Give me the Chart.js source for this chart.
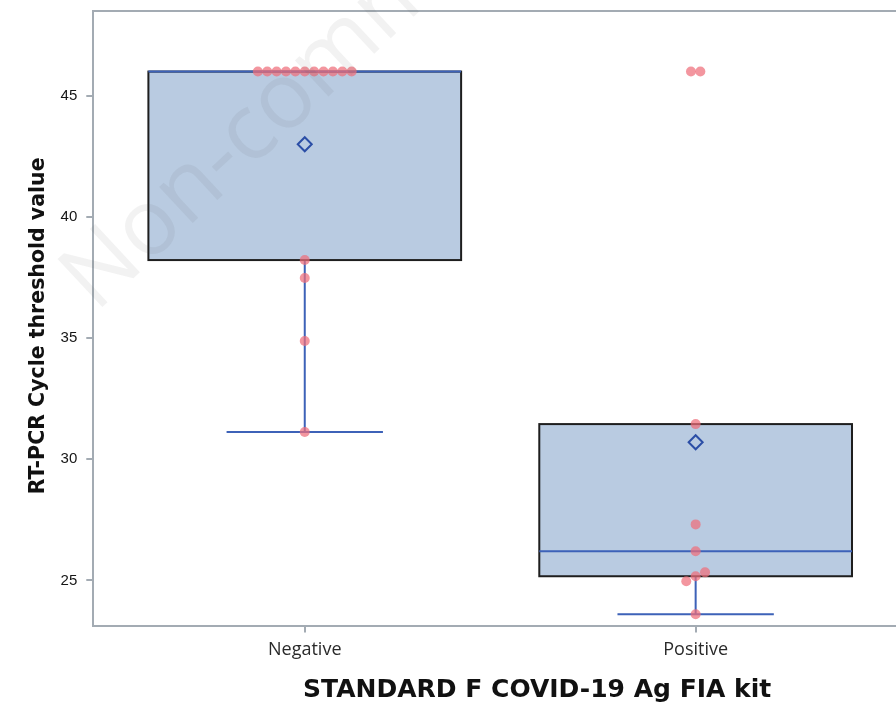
<!DOCTYPE html>
<html>
<head>
<meta charset="utf-8">
<script src="https://cdn.jsdelivr.net/npm/chart.js@4.4.1/dist/chart.umd.min.js"></script>
<style>
  html, body { margin: 0; padding: 0; background: #fff; overflow: hidden; }
  #clip { width: 896px; height: 702px; overflow: hidden; }
  #wrap { position: relative; width: 990px; height: 702px; }
</style>
</head>
<body>
<div id="clip"><div id="wrap"><canvas id="chart"></canvas></div></div>
<script>
const categories = ['Negative', 'Positive'];

// Ct values per group
const negativeValues = [46, 46, 46, 46, 46, 46, 46, 46, 46, 46, 46, 38.22, 37.48, 34.88, 31.12];
const positiveValues = [46, 46, 31.45, 27.31, 26.2, 25.33, 25.17, 24.96, 23.6];

// box statistics, one entry per category
const q1Values = [38.22, 25.17];
const medianValues = [46, 26.2];
const q3Values = [46, 31.45];
const whiskerLow = [31.12, 23.6];
const whiskerHigh = [46, 31.45];
const meanValues = [43.0, 30.7];

const yTicks = [25, 30, 35, 40, 45];
const yMin = 23.1, yMax = 48.5;
const xMin = 0.459, xMax = 2.73;

const axisGray = '#a3abb3';
const boxFill = '#b9cbe1';
const lineBlue = '#3d62b8';

// spread out points that would sit on top of each other
function swarm(values, step, gap) {
  const order = values.map((v, i) => i).sort((a, b) => values[a] - values[b]);
  const offs = new Array(values.length).fill(0);
  let cluster = [order[0]];
  const flush = () => {
    cluster.forEach((idx, k) => { offs[idx] = (k - (cluster.length - 1) / 2) * step; });
  };
  for (let k = 1; k < order.length; k++) {
    if (values[order[k]] - values[order[k - 1]] < gap) cluster.push(order[k]);
    else { flush(); cluster = [order[k]]; }
  }
  flush();
  return offs;
}

function toPoints(values, pos) {
  const offs = swarm(values, 0.024, 0.4);
  return values.map((v, i) => ({ x: pos + offs[i], y: v }));
}

const boxPlugin = {
  id: 'boxes',
  beforeDatasetsDraw(chart) {
    const { ctx, chartArea } = chart;
    const xs = chart.scales.x, ys = chart.scales.y;
    ctx.save();
    // top frame line
    ctx.strokeStyle = axisGray;
    ctx.lineWidth = 2;
    ctx.beginPath();
    ctx.moveTo(chartArea.left, chartArea.top);
    ctx.lineTo(chartArea.right, chartArea.top);
    ctx.stroke();

    categories.forEach((c, i) => {
      const cx = xs.getPixelForValue(i + 1);
      const half = xs.getPixelForValue(i + 1.4) - cx;
      const cap = xs.getPixelForValue(i + 1.2) - cx;
      const yq1 = ys.getPixelForValue(q1Values[i]);
      const yq3 = ys.getPixelForValue(q3Values[i]);
      const ymed = ys.getPixelForValue(medianValues[i]);
      const ylo = ys.getPixelForValue(whiskerLow[i]);
      const yhi = ys.getPixelForValue(whiskerHigh[i]);

      // whiskers
      ctx.strokeStyle = lineBlue;
      ctx.lineWidth = 2;
      ctx.beginPath();
      ctx.moveTo(cx, yq1); ctx.lineTo(cx, ylo);
      ctx.moveTo(cx - cap, ylo); ctx.lineTo(cx + cap, ylo);
      if (yhi < yq3) {
        ctx.moveTo(cx, yq3); ctx.lineTo(cx, yhi);
        ctx.moveTo(cx - cap, yhi); ctx.lineTo(cx + cap, yhi);
      }
      ctx.stroke();

      // box
      ctx.fillStyle = boxFill;
      ctx.fillRect(cx - half, yq3, half * 2, yq1 - yq3);
      ctx.strokeStyle = '#1e1e1e';
      ctx.lineWidth = 2;
      ctx.strokeRect(cx - half, yq3, half * 2, yq1 - yq3);

      // median
      ctx.strokeStyle = lineBlue;
      ctx.lineWidth = 2;
      ctx.beginPath();
      ctx.moveTo(cx - half, ymed); ctx.lineTo(cx + half, ymed);
      ctx.stroke();
    });
    ctx.restore();
  },
  afterDraw(chart) {
    // faint watermark
    const ctx = chart.ctx;
    ctx.save();
    ctx.translate(78, 294);
    ctx.rotate(-43 * Math.PI / 180);
    ctx.font = '92px "Open Sans", sans-serif';
    ctx.fillStyle = 'rgba(80,80,80,0.075)';
    ctx.textBaseline = 'middle';
    ctx.fillText('Non-commercial use only', 0, 0);
    ctx.restore();
  }
};

new Chart(document.getElementById('chart'), {
  type: 'scatter',
  data: {
    datasets: [
      {
        data: toPoints(negativeValues, 1),
        pointRadius: 5,
        pointHoverRadius: 5,
        pointBackgroundColor: 'rgba(238,110,122,0.72)',
        pointBorderWidth: 0
      },
      {
        data: toPoints(positiveValues, 2),
        pointRadius: 5,
        pointHoverRadius: 5,
        pointBackgroundColor: 'rgba(238,110,122,0.72)',
        pointBorderWidth: 0
      },
      {
        data: meanValues.map((v, i) => ({ x: i + 1, y: v })),
        pointStyle: 'rectRot',
        pointRadius: 7,
        pointHoverRadius: 7,
        pointBackgroundColor: 'rgba(0,0,0,0)',
        pointBorderColor: '#2b4ea6',
        pointBorderWidth: 2
      }
    ]
  },
  options: {
    responsive: true,
    maintainAspectRatio: false,
    animation: false,
    layout: { padding: { left: 14, top: 11, right: 7, bottom: 0 } },
    plugins: {
      legend: { display: false },
      tooltip: { enabled: false }
    },
    scales: {
      x: {
        type: 'linear',
        min: xMin,
        max: xMax,
        afterBuildTicks: s => { s.ticks = categories.map((c, i) => ({ value: i + 1 })); },
        ticks: {
          callback: v => categories[Math.round(v) - 1],
          font: { family: '"Open Sans", sans-serif', size: 18 },
          color: '#2a2a2a',
          padding: 7,
          maxRotation: 0
        },
        grid: { drawOnChartArea: false, tickLength: 6, color: axisGray, lineWidth: 2 },
        border: { color: axisGray, width: 2 },
        title: {
          display: true,
          text: 'STANDARD F COVID-19 Ag FIA kit',
          font: { family: '"DejaVu Sans", sans-serif', size: 25, weight: 'bold', lineHeight: 0.8 },
          color: '#111',
          padding: { top: 12, bottom: 2 }
        }
      },
      y: {
        min: yMin,
        max: yMax,
        afterBuildTicks: s => { s.ticks = yTicks.map(v => ({ value: v })); },
        ticks: {
          font: { family: '"Liberation Sans", Arial, sans-serif', size: 15, lineHeight: 0.2 },
          color: '#151515',
          padding: 9
        },
        grid: { drawOnChartArea: false, tickLength: 7, color: axisGray, lineWidth: 2 },
        border: { color: axisGray, width: 2 },
        title: {
          display: true,
          text: 'RT-PCR Cycle threshold value\u00a0\u00a0',
          font: { family: '"DejaVu Sans", sans-serif', size: 20.5, weight: 'bold' },
          color: '#111',
          padding: { top: 12, bottom: 1 }
        }
      }
    }
  },
  plugins: [boxPlugin]
});
</script>
</body>
</html>
